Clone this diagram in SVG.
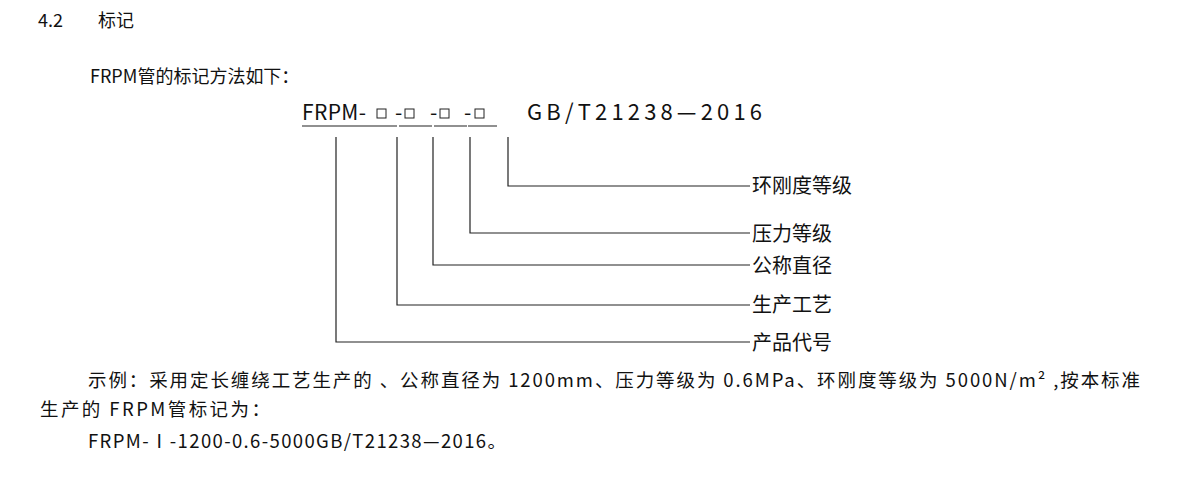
<svg xmlns="http://www.w3.org/2000/svg" width="1200" height="481" viewBox="0 0 1200 481">
<style>
text{font-family:"Noto Sans CJK SC","Noto Sans",sans-serif;fill:#111}
.l{stroke:#222;stroke-width:1.2;fill:none}
.lab{font-size:20px}
.body{font-size:18.5px}
.sq{fill:none;stroke:#222;stroke-width:1}
.c{font-size:21px}
</style>
<rect width="1200" height="481" fill="#fff"/>
<g id="heading"><text x="38" y="27" font-size="18">4.2</text><text x="98" y="27" font-size="18">标记</text></g>
<g id="intro"><text x="90" y="83" font-size="18">FRPM管的标记方法如下：</text></g>
<g id="code"><text class="c" x="302" y="120" textLength="64">FRPM-</text>
<rect class="sq" x="377" y="109" width="9" height="9"/>
<text class="c" x="395" y="120">-</text><rect class="sq" x="405" y="109" width="9" height="9"/>
<text class="c" x="430" y="120">-</text><rect class="sq" x="440" y="109" width="9" height="9"/>
<text class="c" x="464" y="120">-</text><rect class="sq" x="475" y="109" width="9" height="9"/>
<text x="527" y="120" font-size="22" textLength="235">GB/T21238—2016</text></g>
<g id="connectors">
<path class="l" d="M302 126H397M399 126H432M434 126H467M468 126H497"/>
<path class="l" d="M508 137V186H750M470 137V233H750M433 137V265H750M397 137V305H750M336 137V342H750"/>
</g>
<g id="n1"><text class="lab" x="752" y="193">环刚度等级</text></g>
<g id="n2"><text class="lab" x="752" y="241">压力等级</text></g>
<g id="n3"><text class="lab" x="752" y="273">公称直径</text></g>
<g id="n4"><text class="lab" x="752" y="312">生产工艺</text></g>
<g id="n5"><text class="lab" x="752" y="350">产品代号</text></g>
<g id="example">
<text class="body" x="88" y="387" textLength="1052">示例：采用定长缠绕工艺生产的 、公称直径为 1200mm、压力等级为 0.6MPa、环刚度等级为 5000N/m² ,按本标准</text>
<text class="body" x="40" y="416" textLength="230">生产的 FRPM管标记为：</text>
<text class="body" x="88" y="448" textLength="418">FRPM-Ⅰ-1200-0.6-5000GB/T21238—2016。</text>
</g>
</svg>
